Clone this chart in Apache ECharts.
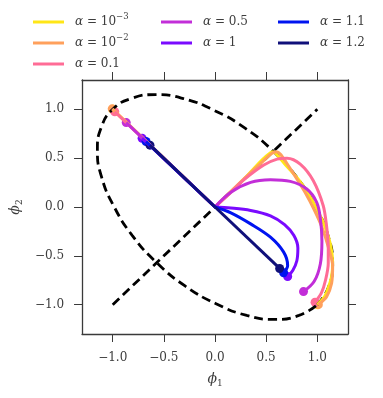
<!DOCTYPE html>
<html>
<head>
<meta charset="utf-8">
<script src="https://cdn.jsdelivr.net/npm/echarts@6/dist/echarts.min.js"></script>
<style>
  html, body { margin: 0; padding: 0; background: #fff; }
  #chart { width: 383px; height: 398px; }
</style>
</head>
<body>
<div id="chart"></div>
<script>
// legend names and colours, small alpha first
const seriesNames = ['α = 10^-3', 'α = 10^-2', 'α = 0.1', 'α = 0.5', 'α = 1', 'α = 1.1', 'α = 1.2'];
const legendText = ['{a|α} = 10{sup|−3}', '{a|α} = 10{sup|−2}', '{a|α} = 0.1', '{a|α} = 0.5', '{a|α} = 1', '{a|α} = 1.1', '{a|α} = 1.2'];
const colors = ['#ffe617', '#ffa05c', '#ff6c96', '#c22ed8', '#7a0aff', '#0014f0', '#10107a'];

const xTicks = [-1, -0.5, 0, 0.5, 1];
const yTicks = [-1, -0.5, 0, 0.5, 1];

// end of the straight branch towards the upper left
const upperEnds = [[-1.0, 1.0], [-1.005, 1.005], [-0.98, 0.975], [-0.868, 0.864], [-0.713, 0.704], [-0.674, 0.67], [-0.636, 0.633]];

// curved branches towards the lower right
const curveA1 = [[0, 0], [0.28, 0.28], [0.566, 0.566], [0.69, 0.43], [0.81, 0.29], [0.91, 0.14], [0.99, -0.01], [1.06, -0.16], [1.11, -0.31], [1.14, -0.45], [1.15, -0.58], [1.14, -0.71], [1.11, -0.82], [1.07, -0.92], [1.0, -1.0]];
const curveA2 = [[0, 0], [0.28, 0.285], [0.46, 0.46], [0.55, 0.545], [0.6, 0.565], [0.64, 0.54], [0.7, 0.45], [0.78, 0.32], [0.88, 0.15], [0.97, -0.03], [1.05, -0.22], [1.11, -0.42], [1.15, -0.6], [1.14, -0.78], [1.09, -0.92], [1.01, -1.0]];
const curveA3 = [[0, 0], [0.15, 0.145], [0.284, 0.28], [0.477, 0.43], [0.607, 0.49], [0.704, 0.5], [0.833, 0.439], [0.961, 0.269], [1.058, 0.013], [1.09, -0.19], [1.107, -0.4], [1.107, -0.578], [1.08, -0.75], [1.04, -0.88], [0.978, -0.975]];
const curveA4 = [[0, 0], [0.155, 0.15], [0.348, 0.252], [0.542, 0.279], [0.736, 0.262], [0.897, 0.184], [0.994, 0.048], [1.03, -0.12], [1.045, -0.35], [1.03, -0.58], [0.97, -0.76], [0.865, -0.866]];
const curveA5 = [[0, 0], [0.155, -0.01], [0.348, -0.035], [0.542, -0.09], [0.68, -0.18], [0.77, -0.29], [0.81, -0.42], [0.8, -0.55], [0.76, -0.65], [0.71, -0.711]];
const curveA6 = [[0, 0], [0.155, -0.06], [0.348, -0.173], [0.542, -0.309], [0.671, -0.462], [0.71, -0.599], [0.671, -0.673]];
const curveA7 = [[0, 0], [0.632, -0.629]];
const curves = [curveA1, curveA2, curveA3, curveA4, curveA5, curveA6, curveA7];
const curveSmooth = [0.2, 0.25, 0.3, 0.35, 0.35, 0.35, 0];

// dashed guides
const diagonal = [[-1, -1], [1, 1]];
const ellipse = [[1.0, -1.0], [1.11, -0.82], [1.15, -0.58], [1.11, -0.31], [0.99, -0.01], [0.81, 0.29], [0.57, 0.57], [0.29, 0.81], [-0.01, 0.99], [-0.31, 1.11], [-0.58, 1.15], [-0.82, 1.11], [-1.0, 1.0], [-1.11, 0.82], [-1.15, 0.58], [-1.11, 0.31], [-0.99, 0.01], [-0.81, -0.29], [-0.57, -0.57], [-0.29, -0.81], [0.01, -0.99], [0.31, -1.11], [0.58, -1.15], [0.82, -1.11], [1.0, -1.0]];

const font = 'DejaVu Serif';
const textColor = '#3d3d3d';
const spineColor = '#3a3a3a';

const fmt = v => v.toFixed(1).replace('-', '−');

const series = [
  {
    type: 'line', data: ellipse, smooth: 0.5, symbol: 'none',
    lineStyle: { color: '#000', width: 2.8, type: [9, 5] }
  },
  {
    type: 'line', data: diagonal, symbol: 'none',
    lineStyle: { color: '#000', width: 2.8, type: [9, 5] }
  }
];
seriesNames.forEach((name, i) => {
  const c = curves[i];
  series.push({
    name: name, type: 'line', data: [[0, 0], upperEnds[i]], symbol: 'none',
    lineStyle: { color: colors[i], width: 3 }, itemStyle: { color: colors[i] }
  });
  series.push({
    name: name, type: 'line', data: c, smooth: curveSmooth[i], symbol: 'none',
    lineStyle: { color: colors[i], width: 3 }, itemStyle: { color: colors[i] }
  });
  series.push({
    name: name, type: 'scatter', data: [upperEnds[i], c[c.length - 1]], symbolSize: 9,
    itemStyle: { color: colors[i], opacity: 1 }
  });
});

const legendBase = {
  orient: 'vertical', top: 12, padding: 0, itemGap: 1,
  itemWidth: 31, itemHeight: 3, icon: 'rect',
  selectedMode: false,
  formatter: name => legendText[seriesNames.indexOf(name)],
  textStyle: {
    fontFamily: font, fontSize: 12, color: textColor, lineHeight: 20,
    padding: [0, 0, 0, 6],
    rich: {
      a: { fontFamily: font, fontStyle: 'italic', fontSize: 12, color: textColor, lineHeight: 20 },
      sup: { fontFamily: font, fontSize: 8.5, color: textColor, lineHeight: 14, verticalAlign: 'top' }
    }
  }
};

const nameRich = {
  i: { fontFamily: font, fontStyle: 'italic', fontSize: 14, color: textColor, lineHeight: 18 },
  s: { fontFamily: font, fontSize: 9, color: textColor, lineHeight: 12, verticalAlign: 'bottom' }
};

const axisCommon = {
  type: 'value', min: -1.3, max: 1.3,
  splitLine: { show: false },
  axisLine: { show: true, onZero: false, lineStyle: { color: spineColor, width: 1.3 } },
  axisTick: { show: true, inside: false, length: 8, lineStyle: { color: spineColor, width: 1 } }
};

const myChart = echarts.init(document.getElementById('chart'));
myChart.setOption({
  animation: false,
  backgroundColor: '#fff',
  grid: { left: 80, top: 80, width: 268, height: 254 },
  legend: [
    Object.assign({}, legendBase, { left: 33, data: seriesNames.slice(0, 3) }),
    Object.assign({}, legendBase, { left: 161, data: seriesNames.slice(3, 5) }),
    Object.assign({}, legendBase, { left: 278, data: seriesNames.slice(5, 7) })
  ],
  xAxis: [
    Object.assign({}, axisCommon, {
      position: 'bottom',
      axisTick: Object.assign({}, axisCommon.axisTick, { customValues: xTicks }),
      axisLabel: { customValues: xTicks, formatter: fmt, margin: 18, fontFamily: font, fontSize: 12, color: textColor },
      name: '{i|ϕ}{s|1}', nameLocation: 'middle', nameGap: 36,
      nameTextStyle: { color: textColor, rich: nameRich }
    }),
    Object.assign({}, axisCommon, {
      position: 'top',
      axisTick: Object.assign({}, axisCommon.axisTick, { customValues: xTicks }),
      axisLabel: { show: false }
    })
  ],
  yAxis: [
    Object.assign({}, axisCommon, {
      position: 'left',
      axisTick: Object.assign({}, axisCommon.axisTick, { customValues: yTicks }),
      axisLabel: { customValues: yTicks, formatter: fmt, margin: 18, fontFamily: font, fontSize: 12, color: textColor },
      name: '{i|ϕ}{s|2}', nameLocation: 'middle', nameGap: 58,
      nameTextStyle: { color: textColor, rich: nameRich }
    }),
    Object.assign({}, axisCommon, {
      position: 'right',
      axisTick: Object.assign({}, axisCommon.axisTick, { customValues: yTicks }),
      axisLabel: { show: false }
    })
  ],
  series: series
});
</script>
</body>
</html>
